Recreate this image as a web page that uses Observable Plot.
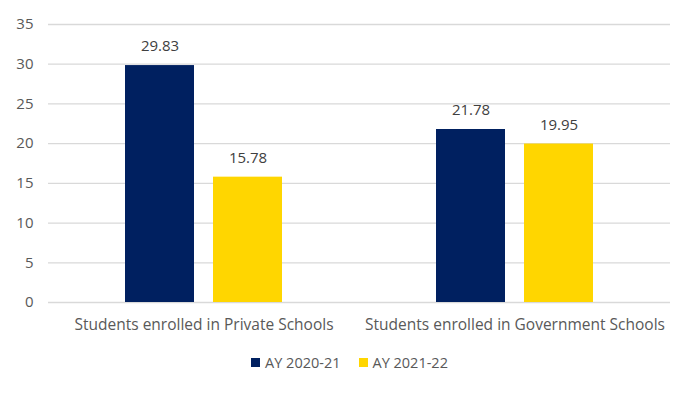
<!DOCTYPE html>
<html><head><meta charset="utf-8">
<script src="https://cdn.jsdelivr.net/npm/d3@7"></script>
<script src="https://cdn.jsdelivr.net/npm/@observablehq/plot@0.6"></script>
<style>
body{margin:0;background:#fff;font-family:"Open Sans",sans-serif}
#legend{display:flex;justify-content:center;gap:18px;font-size:14.5px;color:#595959;margin-top:8px;padding-left:4px}
#legend span.item{display:flex;align-items:center;gap:5px}
#legend span.sw{width:9px;height:9px;display:inline-block}
</style>
</head><body><div id="chart"></div><div id="legend"></div>
<script>
const categories = ["Students enrolled in Private Schools", "Students enrolled in Government Schools"];
const series = ["AY 2020-21", "AY 2021-22"];
const values2020 = [29.83, 21.78];
const values2021 = [15.78, 19.95];
const yTicks = [0, 5, 10, 15, 20, 25, 30, 35];
const colors = ["#002060", "#FFD600"];

const data = categories.flatMap((c, i) => [
  {category: c, series: series[0], value: values2020[i]},
  {category: c, series: series[1], value: values2021[i]}
]);

const plot = Plot.plot({
  width: 695, height: 345,
  marginTop: 24, marginBottom: 43, marginLeft: 48, marginRight: 25,
  style: {fontFamily: "Open Sans, sans-serif", fontSize: "15px", color: "#595959", background: "#fff"},
  fx: {domain: categories, padding: 0, label: null, tickSize: 0, tickPadding: 16, axis: "bottom"},
  x: {domain: series, axis: null, paddingInner: 0.213, paddingOuter: 0.854},
  y: {domain: [0, 35], ticks: yTicks, label: null, tickSize: 0, tickPadding: 15},
  color: {domain: series, range: colors},
  marks: [
    Plot.gridY(yTicks, {stroke: "#d9d9d9", strokeOpacity: 1, strokeWidth: 1.3}),
    Plot.barY(data, {fx: "category", x: "series", y: "value", fill: "series"}),
    Plot.text(data, {fx: "category", x: "series", y: "value", text: d => d.value.toFixed(2), dy: -19, fill: "#404040", fontSize: 15})
  ]
});
plot.querySelectorAll('[aria-label="fx-axis tick label"] text').forEach(t => t.setAttribute("font-size", "15.5"));
document.getElementById("chart").append(plot);

const legend = document.getElementById("legend");
series.forEach((s, i) => {
  const item = document.createElement("span");
  item.className = "item";
  const sw = document.createElement("span");
  sw.className = "sw";
  sw.style.background = colors[i];
  item.append(sw, document.createTextNode(s));
  legend.append(item);
});
</script>
</body></html>
